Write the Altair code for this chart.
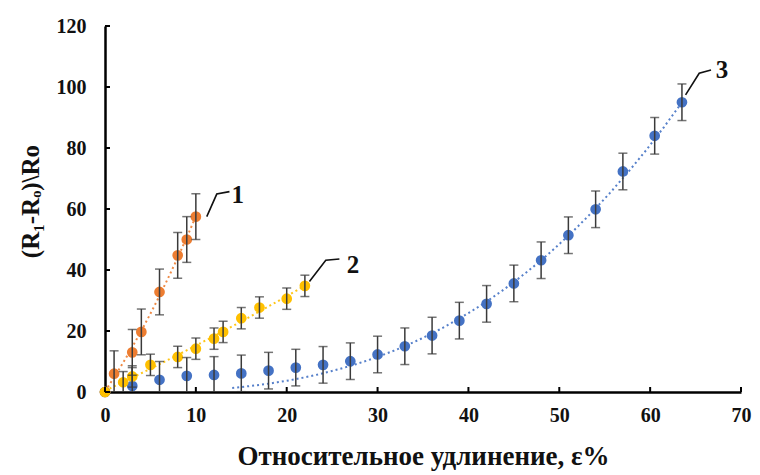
import altair as alt
import pandas as pd

# ---- data ----
s1_x = [0, 1, 3, 4, 6, 8, 9, 10]
s1_y = [0, 6.0, 13.0, 19.7, 32.8, 44.8, 50.0, 57.5]
s1_err = [0, 7.5, 7.5, 7.5, 7.5, 7.5, 7.5, 7.5]

s2_x = [0, 2, 3, 5, 8, 10, 12, 13, 15, 17, 20, 22]
s2_y = [0, 3.2, 5.1, 8.9, 11.5, 14.2, 17.5, 19.7, 24.2, 27.7, 30.6, 34.8]
s2_err = [0, 3.5, 3.5, 3.5, 3.5, 3.5, 3.5, 3.5, 3.5, 3.5, 3.5, 3.5]

s3_x = [0, 3, 6, 9, 12, 15, 18, 21, 24, 27, 30, 33, 36, 39, 42, 45, 48, 51, 54, 57, 60.5, 63.5]
s3_y = [0, 2.0, 4.0, 5.3, 5.6, 6.1, 7.0, 8.0, 8.9, 10.1, 12.3, 15.0, 18.5, 23.4, 28.9, 35.6,
        43.2, 51.4, 59.9, 72.3, 84.0, 95.0]
s3_err = [0, 6, 6, 6, 6, 6, 6, 6, 6, 6, 6, 6, 6, 6, 6, 6, 6, 6, 6, 6, 6, 6]

series_names = ["1", "3", "2"]          # drawing order: orange, blue, yellow on top
series_colors = ["#ED7D31", "#4472C4", "#FFC000"]

x_ticks = [0, 10, 20, 30, 40, 50, 60, 70]
y_ticks = [0, 20, 40, 60, 80, 100, 120]

lbl_names = ["1", "2", "3"]
lbl_x = [14.6, 27.3, 67.9]
lbl_y = [64.6, 41.6, 105.6]

lead_name = ["1", "1", "1", "2", "2", "2", "3", "3", "3"]
lead_x = [11.2, 12.3, 13.7, 22.5, 24.3, 25.8, 63.9, 65.4, 66.7]
lead_y = [57.5, 64.9, 65.7, 36.2, 43.2, 43.6, 97.4, 104.5, 105.6]

XT = "Относительное удлинение, ε%"
YT = "(R₁-Rₒ)\\Ro"

# ---- tables ----
rows = []
for name, xs, ys, es in [("1", s1_x, s1_y, s1_err), ("3", s3_x, s3_y, s3_err), ("2", s2_x, s2_y, s2_err)]:
    for a, b, e in zip(xs, ys, es):
        rows.append({"series": name, "x": a, "y": b, "lo": b - e, "hi": b + e, "err": e})
df = pd.DataFrame(rows)
df_err = df[df["err"] > 0]

ann = pd.DataFrame({"label": lbl_names, "x": lbl_x, "y": lbl_y})
lead = pd.DataFrame({"label": lead_name, "x": lead_x, "y": lead_y})
xt = pd.DataFrame({"x": x_ticks})
yt = pd.DataFrame({"y": y_ticks})

FONT = "Liberation Serif"
W, H = 636, 366

xscale = alt.Scale(domain=[0, 70], nice=False, zero=False)
yscale = alt.Scale(domain=[0, 120], nice=False, zero=False)

xaxis = alt.Axis(values=x_ticks, tickSize=0, labelPadding=13, labelFont=FONT, labelFontWeight="bold",
                 labelFontSize=20, labelColor="#111111", domainColor="black", domainWidth=2.5,
                 grid=False, labelFlush=False, titleFont=FONT, titleFontSize=27,
                 titleFontWeight="bold", titleColor="#111111", titleY=64, titleBaseline="middle")
yaxis = alt.Axis(values=y_ticks, tickSize=0, labelPadding=19, labelFont=FONT, labelFontWeight="bold",
                 labelFontSize=20, labelColor="#111111", domainColor="black", domainWidth=2.5,
                 grid=False, labelFlush=False, titleFont=FONT, titleFontSize=25,
                 titleFontWeight="bold", titleColor="#111111", titleX=-75, titleY=H / 2 - 8,
                 titleBaseline="middle", titleAlign="center")


def X(field="x"):
    return alt.X(f"{field}:Q", scale=xscale, axis=xaxis, title=XT)


def Y(field="y"):
    return alt.Y(f"{field}:Q", scale=yscale, axis=yaxis, title=YT)


color = alt.Color("series:N", scale=alt.Scale(domain=series_names, range=series_colors), legend=None)

base = alt.Chart(df)

trend12 = base.transform_filter(alt.datum.series != "3").transform_regression(
    "x", "y", method="poly", order=2, groupby=["series"]
).mark_line(strokeDash=[2, 3], strokeWidth=2, clip=True, opacity=0.9).encode(
    x=X(), y=Y(), color=color, detail="series:N"
)
# power-law trend of curve 3, fitted on its rising part
trend3 = base.transform_filter(
    (alt.datum.series == "3") & (alt.datum.x >= 30)
).transform_regression(
    "x", "y", method="pow", groupby=["series"], extent=[14, 63.5]
).mark_line(strokeDash=[2, 3], strokeWidth=2, clip=True, opacity=0.9).encode(
    x=X(), y=Y(), color=color, detail="series:N"
)

points = base.mark_circle(size=115, opacity=1).encode(x=X(), y=Y(), color=color)

ebase = alt.Chart(df_err)
bars = ebase.mark_rule(color="#3a3a3a", strokeWidth=1.5, clip=True).encode(x=X(), y=Y("lo"), y2="hi:Q")
cap_lo = ebase.mark_tick(orient="horizontal", color="#3a3a3a", size=9, thickness=1.5, clip=True).encode(
    x=X(), y=Y("lo"))
cap_hi = ebase.mark_tick(orient="horizontal", color="#3a3a3a", size=9, thickness=1.5, clip=True).encode(
    x=X(), y=Y("hi"))

xticks = alt.Chart(xt).mark_rule(color="black", strokeWidth=2).encode(
    x=X(), y=alt.value(H), y2=alt.value(H - 5))
yticks = alt.Chart(yt).mark_rule(color="black", strokeWidth=2).encode(
    y=Y(), x=alt.value(0), x2=alt.value(5))

leaders = alt.Chart(lead).mark_line(color="#111111", strokeWidth=1.6).encode(
    x=X(), y=Y(), detail="label:N")
labels = alt.Chart(ann).mark_text(font=FONT, fontWeight="bold", fontSize=25, color="#111111",
                                  align="center", baseline="middle").encode(
    x=X(), y=Y(), text="label:N")

chart = alt.layer(trend12, trend3, points, bars, cap_lo, cap_hi, xticks, yticks, leaders, labels).properties(
    width=W, height=H,
    autosize=alt.AutoSizeParams(type="none"),
    padding={"left": 105, "top": 26, "right": 19, "bottom": 83},
    background="white",
).configure_view(stroke=None)

chart.save("out.html", embed_options={"renderer": "svg", "actions": False})
